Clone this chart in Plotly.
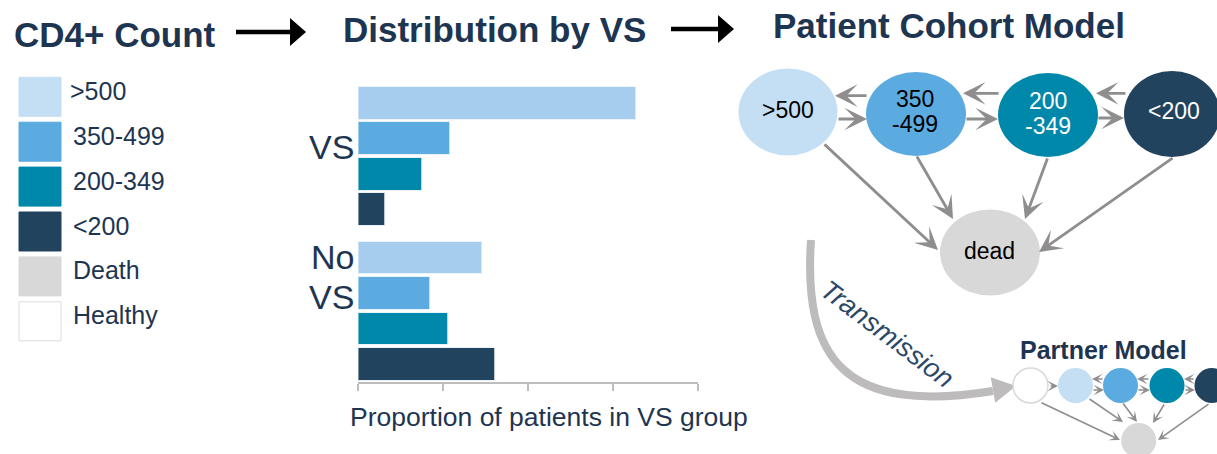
import plotly.graph_objects as go

W, H = 1217, 454

# --- data ---------------------------------------------------------------
cd4_levels = [">500", "350-499", "200-349", "<200"]
groups = ["VS", "No VS"]
vs_share = [0.655, 0.216, 0.152, 0.063]
no_vs_share = [0.293, 0.169, 0.213, 0.323]
x_ticks = [0, 0.2, 0.4, 0.6, 0.8]
legend_labels = [">500", "350-499", "200-349", "<200", "Death", "Healthy"]

COLOR = {
    ">500": "#C4DEF3",
    ">500_bar": "#A6CDEE",
    "350-499": "#5BAAE0",
    "200-349": "#0088AB",
    "<200": "#22435E",
    "Death": "#D9D8D9",
    "Healthy": "#FFFFFF",
    "text": "#1E3552",
    "edge": "#8F8D8E",
    "arc": "#BDBBBB",
    "axis": "#BDBDBD",
}
FONT = "Arial, 'Liberation Sans', sans-serif"

# --- bar layout (pixel mapping) ----------------------------------------
PITCH = 35.5          # px per bar slot
TOP_CENTER = 103.2    # px of first bar centre
GROUP_GAP = 4.36      # slots between the first bars of the two groups
AX_TOP, AX_BOTTOM = 80, 382.3
X_LEFT, X_RIGHT = 358.3, 697.7


def py(v):
    return 1 - v / H


fig = go.Figure()

bar_colors = [COLOR[">500_bar"], COLOR["350-499"], COLOR["200-349"], COLOR["<200"]]
for i, level in enumerate(cd4_levels):
    fig.add_bar(
        x=[vs_share[i], no_vs_share[i]],
        y=[i, GROUP_GAP + i],
        orientation="h",
        width=0.92,
        marker=dict(color=bar_colors[i], line=dict(color="#EAF2FA", width=1)),
        name=level,
        showlegend=False,
    )

# empty trace so the pixel overlay axes exist
fig.add_scatter(x=[None], y=[None], xaxis="x2", yaxis="y2",
                showlegend=False, hoverinfo="skip")

shapes = []
ann = []


def text(x, y, s, size, color=COLOR["text"], anchor="left", **kw):
    ann.append(dict(x=x, y=y, xref="x2", yref="y2", text=s, showarrow=False,
                    xanchor=anchor, yanchor="middle",
                    font=dict(family=FONT, size=size, color=color), **kw))


def arrow(tail, head, width, size, color=COLOR["edge"], style=3):
    ann.append(dict(x=head[0], y=head[1], ax=tail[0], ay=tail[1],
                    xref="x2", yref="y2", axref="x2", ayref="y2",
                    text="", showarrow=True, arrowhead=style,
                    arrowwidth=width, arrowsize=size, arrowcolor=color,
                    standoff=0, startstandoff=0))


def ellipse(cx, cy, rx, ry, fill, line=None):
    shapes.append(dict(type="circle", xref="x2", yref="y2",
                       x0=cx - rx, x1=cx + rx, y0=cy - ry, y1=cy + ry,
                       fillcolor=fill, layer="above",
                       line=dict(color=line or fill, width=1.5 if line else 0)))


# titles and flow arrows
text(12, 34.5, "<b>CD4+ Count</b>", 35)
text(341, 29.7, "<b>Distribution by VS</b>", 35)
text(771, 25.5, "<b>Patient Cohort Model</b>", 35)
for x0, x1, xt, yc in [(236, 292, 306, 32), (671, 720, 734, 29)]:
    shapes.append(dict(type="line", xref="x2", yref="y2", x0=x0, x1=x1,
                       y0=yc, y1=yc, line=dict(color="black", width=4.5)))
    shapes.append(dict(type="path", xref="x2", yref="y2",
                       path=f"M {xt-16},{yc-14} L {xt},{yc} L {xt-16},{yc+14} Z",
                       fillcolor="black", line=dict(width=0)))

# legend
legend_fill = [COLOR[">500"], COLOR["350-499"], COLOR["200-349"], COLOR["<200"],
               COLOR["Death"], COLOR["Healthy"]]
for i, lab in enumerate(legend_labels):
    top = 77.3 + i * 44.9
    shapes.append(dict(type="rect", xref="x2", yref="y2", x0=19, x1=61,
                       y0=top, y1=top + 39, fillcolor=legend_fill[i],
                       line=dict(color="#DCDCDC" if lab == "Healthy" else legend_fill[i],
                                 width=1)))
    text(68 if i == 0 else 71, top + 19.5 - 6, lab, 25)

# bar labels
text(356, 147, "VS", 34, anchor="right")
text(356, 257, "No", 34, anchor="right")
text(356, 297, "VS", 34, anchor="right")
text(549, 417, "Proportion of patients in VS group", 26.5, anchor="center")

# cohort model
EW, ES = 2.8, 1.35
arrow((868, 95.7), (835, 95.7), EW, ES)
arrow((1000, 93.3), (963, 93.3), EW, ES)
arrow((1127, 93.3), (1096, 93.3), EW, ES)
arrow((837, 119), (867, 119), EW, ES)
arrow((965, 119), (998, 119), EW, ES)
arrow((1097, 118), (1124, 118), EW, ES)
arrow((823, 143), (938, 250), EW, ES)
arrow((916, 155), (953, 219), EW, ES)
arrow((1048, 157), (1025, 219), EW, ES)
arrow((1174, 157), (1039, 252), EW, ES)

ellipse(788, 112, 49.5, 43.5, COLOR[">500"])
ellipse(916, 114, 50, 42, COLOR["350-499"])
ellipse(1048, 115, 50, 42, COLOR["200-349"])
ellipse(1172, 114, 48, 43, COLOR["<200"])
ellipse(990, 252.5, 50, 43, COLOR["Death"])

text(788, 110, ">500", 23, color="black", anchor="center")
text(915, 98.5, "350", 23, color="black", anchor="center")
text(915, 123.5, "-499", 23, color="black", anchor="center")
text(1048, 101, "200", 23, color="white", anchor="center")
text(1048, 126, "-349", 23, color="white", anchor="center")
text(1174, 110.7, "<200", 23, color="white", anchor="center")
text(989, 250.7, "dead", 23, color="black", anchor="center")

# transmission arc
shapes.append(dict(type="path", xref="x2", yref="y2",
                   path="M 811,240 C 803,360 845,415 993,391",
                   line=dict(color=COLOR["arc"], width=8)))
shapes.append(dict(type="path", xref="x2", yref="y2",
                   path="M 990.8,377.2 L 1016,386 L 995.2,402.8 Z",
                   fillcolor=COLOR["arc"], line=dict(width=0)))
text(887, 334, "<i>Transmission</i>", 27, color="#2A4868", anchor="center",
     textangle=37)

# partner model
text(1018, 350, "<b>Partner Model</b>", 25)
for tail, head in [((1049, 386), (1058, 386)),
                   ((1104, 379), (1092, 379)), ((1092, 390), (1104, 390)),
                   ((1150, 379), (1137, 379)), ((1137, 390), (1150, 390)),
                   ((1195, 379), (1184, 379)), ((1184, 390), (1195, 390)),
                   ((1040, 402), (1120, 440)), ((1088, 398), (1123, 422)),
                   ((1122, 402), (1137, 422)), ((1165, 403), (1153, 423)),
                   ((1210, 403), (1158, 440))]:
    arrow(tail, head, 1.6, 1.1)

ellipse(1030.5, 385.5, 17.5, 17.5, "white", line="#D8D8D8")
ellipse(1075.5, 385.5, 17.5, 17.5, COLOR[">500"])
ellipse(1120.5, 385.5, 17.5, 17.5, COLOR["350-499"])
ellipse(1167, 385.5, 17.5, 17.5, COLOR["200-349"])
ellipse(1212, 385.5, 17.5, 17.5, COLOR["<200"])
ellipse(1138.7, 440.5, 17.5, 17.5, COLOR["Death"])

# axes ranges from pixel geometry
y_bottom = (AX_BOTTOM - TOP_CENTER) / PITCH
y_top = (AX_TOP - TOP_CENTER) / PITCH

fig.update_layout(
    width=W, height=H,
    margin=dict(l=0, r=0, t=0, b=0),
    paper_bgcolor="white",
    plot_bgcolor="rgba(0,0,0,0)",
    bargap=0,
    xaxis=dict(domain=[X_LEFT / W, X_RIGHT / W], range=[0, 0.8],
               tickvals=x_ticks, showticklabels=False, ticks="outside",
               ticklen=7, tickwidth=2, tickcolor=COLOR["axis"],
               showline=True, linecolor=COLOR["axis"], linewidth=2,
               showgrid=False, zeroline=False, fixedrange=True),
    yaxis=dict(domain=[py(AX_BOTTOM), py(AX_TOP)], range=[y_bottom, y_top],
               visible=False, fixedrange=True),
    xaxis2=dict(domain=[0, 1], range=[0, W], visible=False, anchor="y2",
                fixedrange=True),
    yaxis2=dict(domain=[0, 1], range=[H, 0], visible=False, anchor="x2",
                fixedrange=True),
    shapes=shapes,
    annotations=ann,
    font=dict(family=FONT),
)

fig.write_html("out.html", config={"displayModeBar": False},
               post_script="document.body.style.margin='0';")
